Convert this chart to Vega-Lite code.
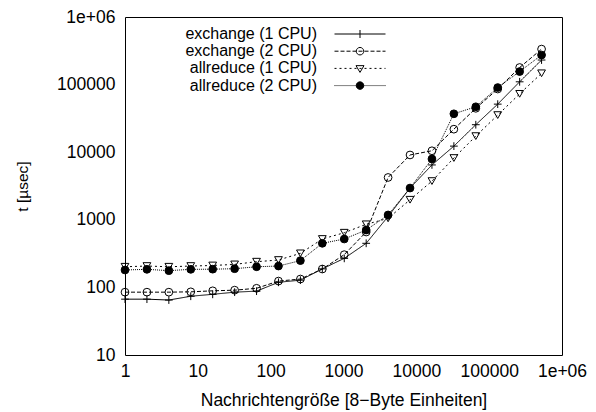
{
  "$schema": "https://vega.github.io/schema/vega-lite/v6.json",
  "width": 437,
  "height": 338,
  "autosize": "none",
  "padding": {"left": 125, "top": 17, "right": 34, "bottom": 57},
  "background": "white",
  "config": {
    "font": "Liberation Sans",
    "view": {"stroke": "black", "strokeWidth": 1},
    "axis": {
      "domain": false, "grid": false, "tickSize": 0, "tickColor": "black", "tickWidth": 1,
      "labelColor": "black", "titleColor": "black", "labelFontSize": 17.5, "titleFontSize": 17.5,
      "titleFontWeight": "normal", "labelOverlap": false, "labelFlush": false
    }
  },
  "data": {"values": [
    {"series": "exchange (1 CPU)", "n": 1, "t": 67}, {"series": "exchange (1 CPU)", "n": 2, "t": 67}, {"series": "exchange (1 CPU)", "n": 4, "t": 65}, {"series": "exchange (1 CPU)", "n": 8, "t": 74}, {"series": "exchange (1 CPU)", "n": 16, "t": 79}, {"series": "exchange (1 CPU)", "n": 32, "t": 85}, {"series": "exchange (1 CPU)", "n": 64, "t": 88}, {"series": "exchange (1 CPU)", "n": 128, "t": 119}, {"series": "exchange (1 CPU)", "n": 256, "t": 128}, {"series": "exchange (1 CPU)", "n": 512, "t": 188}, {"series": "exchange (1 CPU)", "n": 1024, "t": 269}, {"series": "exchange (1 CPU)", "n": 2048, "t": 449}, {"series": "exchange (1 CPU)", "n": 4096, "t": 1120}, {"series": "exchange (1 CPU)", "n": 8192, "t": 2950}, {"series": "exchange (1 CPU)", "n": 16384, "t": 6480}, {"series": "exchange (1 CPU)", "n": 32768, "t": 12300}, {"series": "exchange (1 CPU)", "n": 65536, "t": 25500}, {"series": "exchange (1 CPU)", "n": 131072, "t": 51400}, {"series": "exchange (1 CPU)", "n": 262144, "t": 110000}, {"series": "exchange (1 CPU)", "n": 524288, "t": 231000},
    {"series": "exchange (2 CPU)", "n": 1, "t": 85}, {"series": "exchange (2 CPU)", "n": 2, "t": 85}, {"series": "exchange (2 CPU)", "n": 4, "t": 85}, {"series": "exchange (2 CPU)", "n": 8, "t": 86}, {"series": "exchange (2 CPU)", "n": 16, "t": 89}, {"series": "exchange (2 CPU)", "n": 32, "t": 91}, {"series": "exchange (2 CPU)", "n": 64, "t": 97}, {"series": "exchange (2 CPU)", "n": 128, "t": 124}, {"series": "exchange (2 CPU)", "n": 256, "t": 133}, {"series": "exchange (2 CPU)", "n": 512, "t": 187}, {"series": "exchange (2 CPU)", "n": 1024, "t": 305}, {"series": "exchange (2 CPU)", "n": 2048, "t": 660}, {"series": "exchange (2 CPU)", "n": 4096, "t": 4230}, {"series": "exchange (2 CPU)", "n": 8192, "t": 9100}, {"series": "exchange (2 CPU)", "n": 16384, "t": 10500}, {"series": "exchange (2 CPU)", "n": 32768, "t": 21900}, {"series": "exchange (2 CPU)", "n": 65536, "t": 44600}, {"series": "exchange (2 CPU)", "n": 131072, "t": 86000}, {"series": "exchange (2 CPU)", "n": 262144, "t": 179000}, {"series": "exchange (2 CPU)", "n": 524288, "t": 335000},
    {"series": "allreduce (1 CPU)", "n": 1, "t": 202}, {"series": "allreduce (1 CPU)", "n": 2, "t": 207}, {"series": "allreduce (1 CPU)", "n": 4, "t": 202}, {"series": "allreduce (1 CPU)", "n": 8, "t": 207}, {"series": "allreduce (1 CPU)", "n": 16, "t": 211}, {"series": "allreduce (1 CPU)", "n": 32, "t": 219}, {"series": "allreduce (1 CPU)", "n": 64, "t": 240}, {"series": "allreduce (1 CPU)", "n": 128, "t": 254}, {"series": "allreduce (1 CPU)", "n": 256, "t": 319}, {"series": "allreduce (1 CPU)", "n": 512, "t": 520}, {"series": "allreduce (1 CPU)", "n": 1024, "t": 644}, {"series": "allreduce (1 CPU)", "n": 2048, "t": 858}, {"series": "allreduce (1 CPU)", "n": 4096, "t": 1050}, {"series": "allreduce (1 CPU)", "n": 8192, "t": 1980}, {"series": "allreduce (1 CPU)", "n": 16384, "t": 3740}, {"series": "allreduce (1 CPU)", "n": 32768, "t": 8200}, {"series": "allreduce (1 CPU)", "n": 65536, "t": 17300}, {"series": "allreduce (1 CPU)", "n": 131072, "t": 35400}, {"series": "allreduce (1 CPU)", "n": 262144, "t": 73000}, {"series": "allreduce (1 CPU)", "n": 524288, "t": 147000},
    {"series": "allreduce (2 CPU)", "n": 1, "t": 181}, {"series": "allreduce (2 CPU)", "n": 2, "t": 185}, {"series": "allreduce (2 CPU)", "n": 4, "t": 177}, {"series": "allreduce (2 CPU)", "n": 8, "t": 185}, {"series": "allreduce (2 CPU)", "n": 16, "t": 186}, {"series": "allreduce (2 CPU)", "n": 32, "t": 189}, {"series": "allreduce (2 CPU)", "n": 64, "t": 202}, {"series": "allreduce (2 CPU)", "n": 128, "t": 207}, {"series": "allreduce (2 CPU)", "n": 256, "t": 249}, {"series": "allreduce (2 CPU)", "n": 512, "t": 449}, {"series": "allreduce (2 CPU)", "n": 1024, "t": 520}, {"series": "allreduce (2 CPU)", "n": 2048, "t": 706}, {"series": "allreduce (2 CPU)", "n": 4096, "t": 1180}, {"series": "allreduce (2 CPU)", "n": 8192, "t": 2950}, {"series": "allreduce (2 CPU)", "n": 16384, "t": 7940}, {"series": "allreduce (2 CPU)", "n": 32768, "t": 37000}, {"series": "allreduce (2 CPU)", "n": 65536, "t": 47000}, {"series": "allreduce (2 CPU)", "n": 131072, "t": 90500}, {"series": "allreduce (2 CPU)", "n": 262144, "t": 156000}, {"series": "allreduce (2 CPU)", "n": 524288, "t": 274000}
  ]},
  "layer": [
    {
      "mark": {"type": "line", "color": "black", "strokeWidth": 1},
      "encoding": {
        "x": {"field": "n", "type": "quantitative", "scale": {"type": "log", "domain": [1, 1000000], "nice": false},
          "axis": {"orient": "bottom", "title": "Nachrichtengröße [8−Byte Einheiten]", "titlePadding": 12, "labelPadding": 7,
            "values": [1,2,5,10,20,50,100,200,500,1000,2000,5000,10000,20000,50000,100000,200000,500000,1000000],
            "labelExpr": "abs(log(datum.value)/LN10 - round(log(datum.value)/LN10)) < 0.001 ? (datum.value >= 1000000 ? '1e+06' : format(datum.value, 'd')) : ''",
            "encode": {"ticks": {"update": {"y2": {"signal": "abs(log(datum.value)/LN10 - round(log(datum.value)/LN10)) < 0.001 ? -6 : -3"}}}}}},
        "y": {"field": "t", "type": "quantitative", "scale": {"type": "log", "domain": [10, 1000000], "nice": false},
          "axis": {"orient": "left", "title": "t [µsec]", "titleFontSize": 15.5, "titlePadding": 26, "labelPadding": 10,
            "values": [10,20,50,100,200,500,1000,2000,5000,10000,20000,50000,100000,200000,500000,1000000],
            "labelExpr": "abs(log(datum.value)/LN10 - round(log(datum.value)/LN10)) < 0.001 ? (datum.value >= 1000000 ? '1e+06' : format(datum.value, 'd')) : ''",
            "encode": {"ticks": {"update": {"x2": {"signal": "abs(log(datum.value)/LN10 - round(log(datum.value)/LN10)) < 0.001 ? 6 : 3"}}}}}},
        "strokeDash": {"field": "series", "type": "nominal",
          "scale": {"domain": ["allreduce (1 CPU)", "allreduce (2 CPU)", "exchange (1 CPU)", "exchange (2 CPU)"], "range": [[2, 3], [1, 1], [1, 0], [4, 2]]},
          "legend": null}
      }
    },
    {
      "mark": {"type": "point", "stroke": "black", "strokeWidth": 1, "opacity": 1, "size": 60},
      "encoding": {
        "x": {"field": "n", "type": "quantitative",
          "axis": {"orient": "top", "title": null, "labels": false,
            "values": [1,2,5,10,20,50,100,200,500,1000,2000,5000,10000,20000,50000,100000,200000,500000,1000000],
            "encode": {"ticks": {"update": {"y2": {"signal": "abs(log(datum.value)/LN10 - round(log(datum.value)/LN10)) < 0.001 ? 6 : 3"}}}}}},
        "y": {"field": "t", "type": "quantitative",
          "axis": {"orient": "right", "title": null, "labels": false,
            "values": [10,20,50,100,200,500,1000,2000,5000,10000,20000,50000,100000,200000,500000,1000000],
            "encode": {"ticks": {"update": {"x2": {"signal": "abs(log(datum.value)/LN10 - round(log(datum.value)/LN10)) < 0.001 ? -6 : -3"}}}}}},
        "shape": {"condition": [
            {"test": "datum.series === 'exchange (1 CPU)'", "value": "M-1,0L1,0M0,-1L0,1"},
            {"test": "datum.series === 'allreduce (1 CPU)'", "value": "triangle-down"}
          ], "value": "circle"},
        "fill": {"condition": {"test": "datum.series === 'allreduce (2 CPU)'", "value": "black"}, "value": "transparent"}
      }
    },
    {
      "mark": {"type": "point", "opacity": 0, "size": 1},
      "encoding": {
        "x": {"field": "n", "type": "quantitative", "axis": null},
        "y": {"field": "t", "type": "quantitative", "axis": null},
        "shape": {"field": "series", "type": "nominal",
          "scale": {"domain": ["exchange (1 CPU)", "exchange (2 CPU)", "allreduce (1 CPU)", "allreduce (2 CPU)"],
            "range": [
              "M-5.1,0L5.1,0M0,-0.8L0,0.8",
              "M-5.1,0L-4.3,0M-3.9,0L-3.1,0M-2.7,0L-1.9,0M-1.5,0L-0.7,0M-0.3,0L0.5,0M0.9,0L1.7,0M2.1,0L2.9,0M3.3,0L4.1,0M4.5,0L5.1,0M-0.75,0A0.75,0.75,0,1,0,0.75,0A0.75,0.75,0,1,0,-0.75,0",
              "M-5.1,0L-4.7,0M-4.1,0L-3.7,0M-3.1,0L-2.7,0M-2.1,0L-1.7,0M-1.1,0L-0.7,0M-0.1,0L0.3,0M0.9,0L1.3,0M1.9,0L2.3,0M2.9,0L3.3,0M3.9,0L4.3,0M4.9,0L5.1,0M-0.8,-0.55L0.8,-0.55L0,0.8Z",
              "M-5.1,0L-4.9,0M-4.7,0L-4.5,0M-4.3,0L-4.1,0M-3.9,0L-3.7,0M-3.5,0L-3.3,0M-3.1,0L-2.9,0M-2.7,0L-2.5,0M-2.3,0L-2.1,0M-1.9,0L-1.7,0M-1.5,0L-1.3,0M-1.1,0L-0.9,0M-0.7,0L-0.5,0M-0.3,0L-0.1,0M0.1,0L0.3,0M0.5,0L0.7,0M0.9,0L1.1,0M1.3,0L1.5,0M1.7,0L1.9,0M2.1,0L2.3,0M2.5,0L2.7,0M2.9,0L3.1,0M3.3,0L3.5,0M3.7,0L3.9,0M4.1,0L4.3,0M4.5,0L4.7,0M4.9,0L5.1,0M-0.75,0A0.75,0.75,0,1,0,0.75,0A0.75,0.75,0,1,0,-0.75,0"
            ]},
          "legend": {"orient": "none", "legendX": 227, "legendY": 9, "title": null, "padding": 0,
            "symbolSize": 100, "symbolFillColor": "transparent", "symbolStrokeColor": "black", "symbolStrokeWidth": 1, "symbolOpacity": 1,
            "labelFontSize": 16, "labelColor": "black", "labelAlign": "right", "labelOffset": -51, "rowPadding": 1.2}},
        "fill": {"field": "series", "type": "nominal",
          "scale": {"domain": ["exchange (1 CPU)", "exchange (2 CPU)", "allreduce (1 CPU)", "allreduce (2 CPU)"], "range": ["transparent", "transparent", "transparent", "black"]},
          "legend": {"orient": "none", "legendX": 227, "legendY": 9, "title": null, "padding": 0,
            "symbolSize": 100, "symbolFillColor": "transparent", "symbolStrokeColor": "black", "symbolStrokeWidth": 1, "symbolOpacity": 1,
            "labelFontSize": 16, "labelColor": "black", "labelAlign": "right", "labelOffset": -51, "rowPadding": 1.2}}
      }
    }
  ],
  "resolve": {"axis": {"x": "independent", "y": "independent"}}
}
